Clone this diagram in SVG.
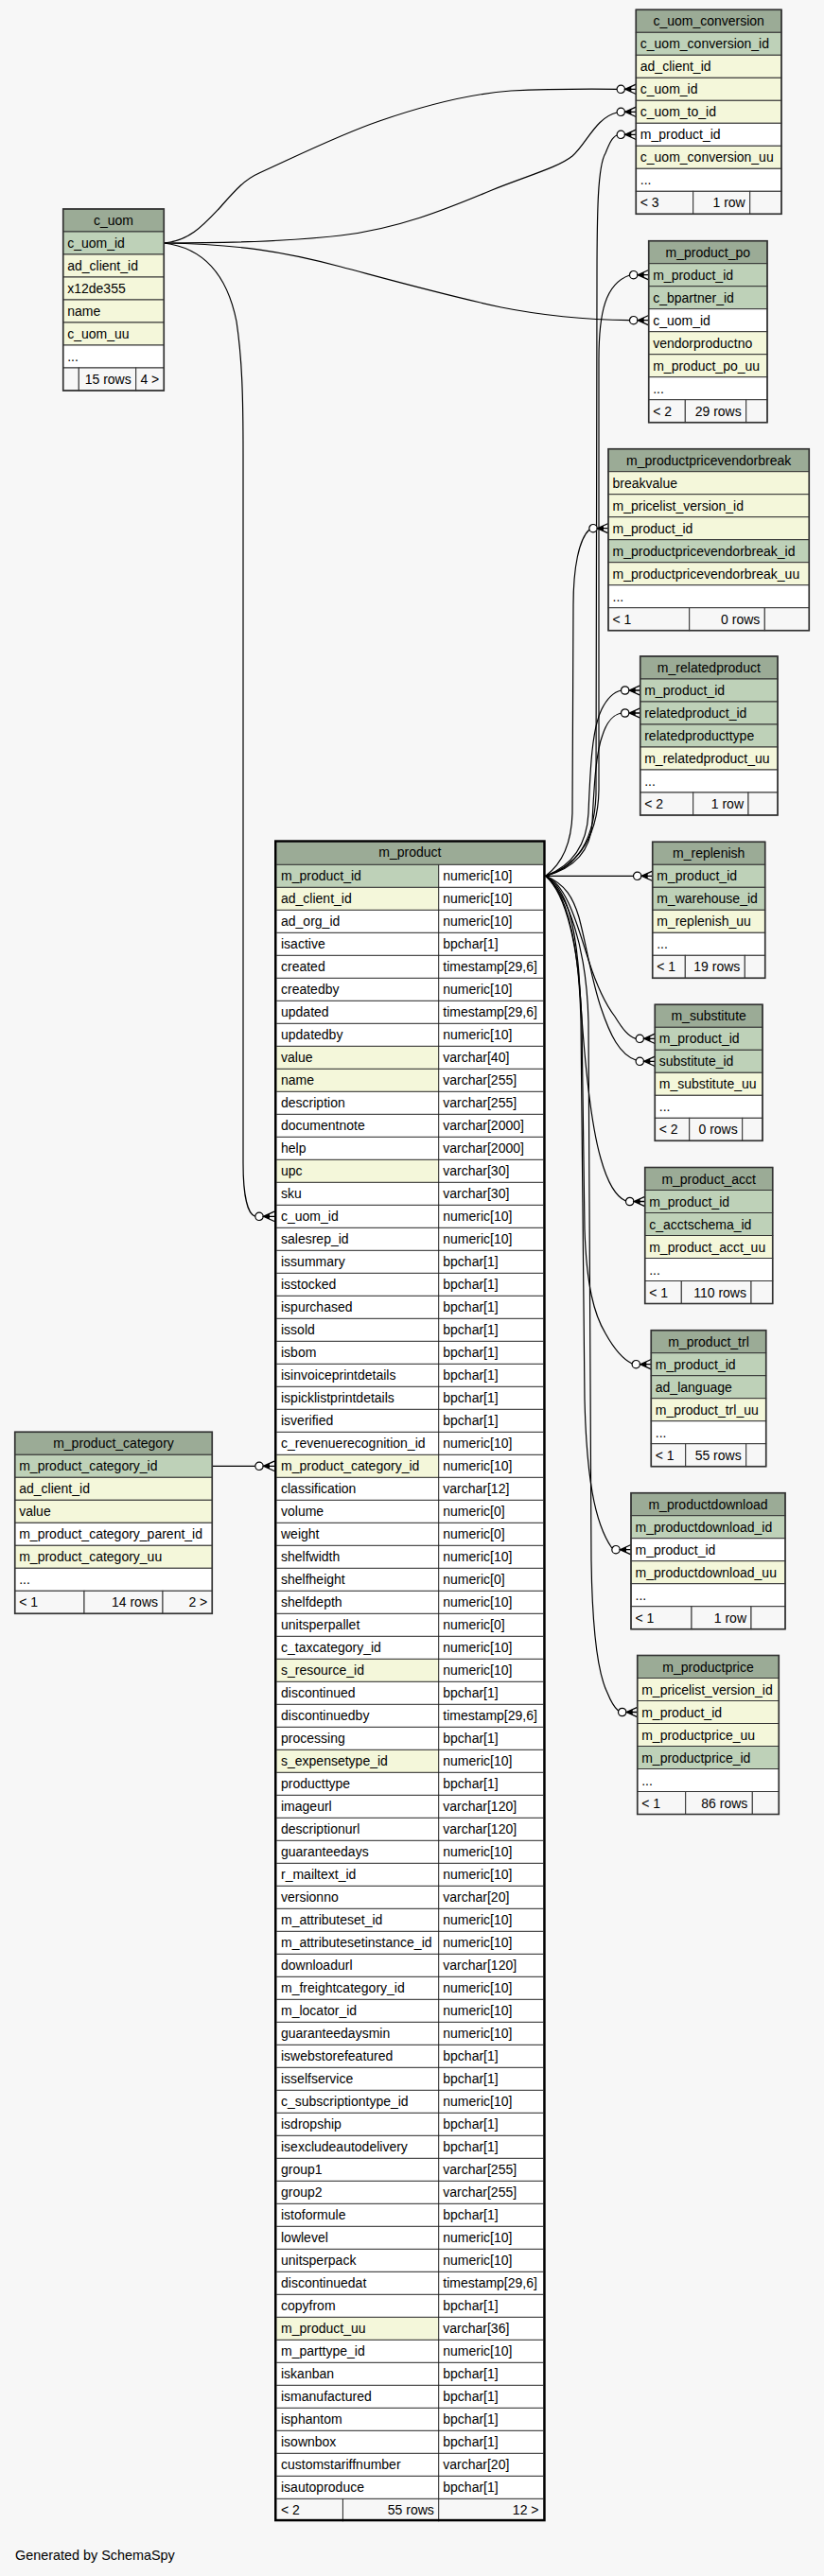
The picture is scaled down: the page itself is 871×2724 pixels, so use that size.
<svg xmlns="http://www.w3.org/2000/svg" width="871" height="2724" viewBox="0 0 871 2724">
<style>
text{font-family:"Liberation Sans",Arial,Helvetica,sans-serif;font-size:14px;fill:#000}
.c{text-anchor:middle}
.e{text-anchor:end}
.h{fill:#9bab96}
.pk{fill:#bed1b8}
.ix{fill:#f4f7da}
.w{fill:#fff}
.f{fill:#f7f7f7}
.tb rect{stroke:#333;stroke-width:1}
.tb rect.o{fill:none;stroke:#333;stroke-width:1.6}
.grid{fill:none;stroke:#222;stroke-width:1}
.edges path{fill:none;stroke:#000;stroke-width:1.2}
</style>
<defs>
<g id="fk">
<circle cx="-16" cy="0" r="4.2" fill="#fff" stroke="#000" stroke-width="1.2"/>
<path d="M0,-5.2 L-11.5,0 L0,5.2 M-11.5,0 H0" fill="none" stroke="#000" stroke-width="1.3"/>
<path d="M-11.5,0 L-5,-3 L-5,3 Z" fill="#000"/>
</g>
</defs>
<rect x="0" y="0" width="871" height="2724" fill="#f7f7f7"/>

<g id="connectors" class="edges">
<path d="M173.3,257 C200,255 215,238 232,220 C248,202 258,190 274,183 C320,162 360,142 401,128 C450,111 500,99 540,96 C580,94 620,94 652.1,94.3"/>
<path d="M173.3,257 C230,257 300,256 360,249 C420,242 470,222 520,201 C560,185 590,177 605,165 C620,152 630,124 652.1,119"/>
<path d="M173.3,257 C250,258 300,266 360,282 C420,298 470,312 530,325 C580,335 620,338 665.5,338.7"/>
<path d="M173.3,257 C215,262 240,290 250,340 C256,380 257,420 257,480 L257,1230 C257,1265 262,1284 269.8,1286.3"/>
<path d="M224.3,1550.3 L269.8,1550.3"/>
<path d="M576.7,926.3 C600,920 628,900 630,840 L631,300 C631,220 632,175 640,162 C644,152 647,145 652.1,143"/>
<path d="M576.7,926.3 C602,918 632,895 633,835 L633,380 C633,330 640,300 665.5,291"/>
<path d="M576.7,926.3 C592,915 604,895 605,860 L606,640 C606,600 612,570 623,560"/>
<path d="M576.7,926.3 C598,918 620,900 622,860 C624,810 626,770 636,750 C642,738 648,732 656.5,730"/>
<path d="M576.7,926.3 C600,920 624,905 626,870 C628,830 630,795 637,777 C642,762 648,756 656.5,754"/>
<path d="M576.7,926.3 L669.5,926.3"/>
<path d="M576.7,926.3 C600,935 612,985 622,1015 C630,1040 640,1062 650,1075 C658,1088 664,1096 672.1,1098.3"/>
<path d="M576.7,926.3 C598,935 606,950 612,970 C620,1000 625,1035 635,1065 C645,1095 655,1115 672.1,1121"/>
<path d="M576.7,926.3 C600,940 608,980 612,1030 C616,1100 622,1180 635,1225 C642,1250 650,1265 661.5,1270"/>
<path d="M576.7,926.3 C598,945 612,1000 615,1080 L618,1300 C620,1360 628,1390 640,1410 C650,1428 660,1438 668.1,1442"/>
<path d="M576.7,926.3 C600,945 612,1000 614,1080 L618,1480 C620,1560 628,1610 646.8,1637"/>
<path d="M576.7,926.3 C600,945 620,1000 622,1080 L625,1650 C626,1720 632,1770 642,1790 C646,1800 650,1806 653.5,1809"/>
<use href="#fk" x="672.3" y="94.3"/>
<use href="#fk" x="672.3" y="118.3"/>
<use href="#fk" x="672.3" y="142.3"/>
<use href="#fk" x="685.7" y="290.7"/>
<use href="#fk" x="685.7" y="338.7"/>
<use href="#fk" x="643" y="558.7"/>
<use href="#fk" x="676.7" y="730"/>
<use href="#fk" x="676.7" y="754"/>
<use href="#fk" x="689.7" y="926.3"/>
<use href="#fk" x="692.3" y="1098.3"/>
<use href="#fk" x="692.3" y="1122.3"/>
<use href="#fk" x="681.7" y="1270.5"/>
<use href="#fk" x="688.3" y="1442.7"/>
<use href="#fk" x="667" y="1638.7"/>
<use href="#fk" x="673.7" y="1810.5"/>
<use href="#fk" x="290" y="1286.3"/>
<use href="#fk" x="290" y="1550.3"/>
</g>

<g id="c_uom_conversion" class="tb" transform="translate(672.3,10.3)">
<rect class="h" x="0" y="0" width="153.7" height="24"/><text class="c" x="76.85" y="17">c_uom_conversion</text>
<rect class="pk" x="0" y="24" width="153.7" height="24"/><text x="4.5" y="41">c_uom_conversion_id</text>
<rect class="ix" x="0" y="48" width="153.7" height="24"/><text x="4.5" y="65">ad_client_id</text>
<rect class="ix" x="0" y="72" width="153.7" height="24"/><text x="4.5" y="89">c_uom_id</text>
<rect class="ix" x="0" y="96" width="153.7" height="24"/><text x="4.5" y="113">c_uom_to_id</text>
<rect class="w" x="0" y="120" width="153.7" height="24"/><text x="4.5" y="137">m_product_id</text>
<rect class="ix" x="0" y="144" width="153.7" height="24"/><text x="4.5" y="161">c_uom_conversion_uu</text>
<rect class="w" x="0" y="168" width="153.7" height="24"/><text x="4.5" y="185">...</text>
<rect class="f" x="0" y="192" width="60.4" height="24"/><rect class="f" x="60.4" y="192" width="60" height="24"/><rect class="f" x="120.4" y="192" width="33.3" height="24"/>
<text x="4.5" y="209">&lt; 3</text><text class="e" x="115.4" y="209">1 row</text>
<rect class="o" x="0" y="0" width="153.7" height="216"/>
</g>

<g id="m_product_po" class="tb" transform="translate(685.7,254.7)">
<rect class="h" x="0" y="0" width="125.3" height="24"/><text class="c" x="62.65" y="17">m_product_po</text>
<rect class="pk" x="0" y="24" width="125.3" height="24"/><text x="4.5" y="41">m_product_id</text>
<rect class="pk" x="0" y="48" width="125.3" height="24"/><text x="4.5" y="65">c_bpartner_id</text>
<rect class="w" x="0" y="72" width="125.3" height="24"/><text x="4.5" y="89">c_uom_id</text>
<rect class="ix" x="0" y="96" width="125.3" height="24"/><text x="4.5" y="113">vendorproductno</text>
<rect class="ix" x="0" y="120" width="125.3" height="24"/><text x="4.5" y="137">m_product_po_uu</text>
<rect class="w" x="0" y="144" width="125.3" height="24"/><text x="4.5" y="161">...</text>
<rect class="f" x="0" y="168" width="38.6" height="24"/><rect class="f" x="38.6" y="168" width="64.4" height="24"/><rect class="f" x="103" y="168" width="22.3" height="24"/>
<text x="4.5" y="185">&lt; 2</text><text class="e" x="98" y="185">29 rows</text>
<rect class="o" x="0" y="0" width="125.3" height="192"/>
</g>

<g id="m_productpricevendorbreak" class="tb" transform="translate(643,474.7)">
<rect class="h" x="0" y="0" width="212.3" height="24"/><text class="c" x="106.15" y="17">m_productpricevendorbreak</text>
<rect class="ix" x="0" y="24" width="212.3" height="24"/><text x="4.5" y="41">breakvalue</text>
<rect class="ix" x="0" y="48" width="212.3" height="24"/><text x="4.5" y="65">m_pricelist_version_id</text>
<rect class="ix" x="0" y="72" width="212.3" height="24"/><text x="4.5" y="89">m_product_id</text>
<rect class="pk" x="0" y="96" width="212.3" height="24"/><text x="4.5" y="113">m_productpricevendorbreak_id</text>
<rect class="ix" x="0" y="120" width="212.3" height="24"/><text x="4.5" y="137">m_productpricevendorbreak_uu</text>
<rect class="w" x="0" y="144" width="212.3" height="24"/><text x="4.5" y="161">...</text>
<rect class="f" x="0" y="168" width="85.7" height="24"/><rect class="f" x="85.7" y="168" width="79.6" height="24"/><rect class="f" x="165.3" y="168" width="47" height="24"/>
<text x="4.5" y="185">&lt; 1</text><text class="e" x="160.3" y="185">0 rows</text>
<rect class="o" x="0" y="0" width="212.3" height="192"/>
</g>

<g id="m_relatedproduct" class="tb" transform="translate(676.7,694)">
<rect class="h" x="0" y="0" width="145.3" height="24"/><text class="c" x="72.65" y="17">m_relatedproduct</text>
<rect class="pk" x="0" y="24" width="145.3" height="24"/><text x="4.5" y="41">m_product_id</text>
<rect class="pk" x="0" y="48" width="145.3" height="24"/><text x="4.5" y="65">relatedproduct_id</text>
<rect class="pk" x="0" y="72" width="145.3" height="24"/><text x="4.5" y="89">relatedproducttype</text>
<rect class="ix" x="0" y="96" width="145.3" height="24"/><text x="4.5" y="113">m_relatedproduct_uu</text>
<rect class="w" x="0" y="120" width="145.3" height="24"/><text x="4.5" y="137">...</text>
<rect class="f" x="0" y="144" width="56" height="24"/><rect class="f" x="56" y="144" width="58.3" height="24"/><rect class="f" x="114.3" y="144" width="31" height="24"/>
<text x="4.5" y="161">&lt; 2</text><text class="e" x="109.3" y="161">1 row</text>
<rect class="o" x="0" y="0" width="145.3" height="168"/>
</g>

<g id="m_replenish" class="tb" transform="translate(689.7,890.3)">
<rect class="h" x="0" y="0" width="119" height="24"/><text class="c" x="59.5" y="17">m_replenish</text>
<rect class="pk" x="0" y="24" width="119" height="24"/><text x="4.5" y="41">m_product_id</text>
<rect class="pk" x="0" y="48" width="119" height="24"/><text x="4.5" y="65">m_warehouse_id</text>
<rect class="ix" x="0" y="72" width="119" height="24"/><text x="4.5" y="89">m_replenish_uu</text>
<rect class="w" x="0" y="96" width="119" height="24"/><text x="4.5" y="113">...</text>
<rect class="f" x="0" y="120" width="34.6" height="24"/><rect class="f" x="34.6" y="120" width="63" height="24"/><rect class="f" x="97.6" y="120" width="21.4" height="24"/>
<text x="4.5" y="137">&lt; 1</text><text class="e" x="92.6" y="137">19 rows</text>
<rect class="o" x="0" y="0" width="119" height="144"/>
</g>

<g id="m_substitute" class="tb" transform="translate(692.3,1062.3)">
<rect class="h" x="0" y="0" width="113.7" height="24"/><text class="c" x="56.85" y="17">m_substitute</text>
<rect class="pk" x="0" y="24" width="113.7" height="24"/><text x="4.5" y="41">m_product_id</text>
<rect class="pk" x="0" y="48" width="113.7" height="24"/><text x="4.5" y="65">substitute_id</text>
<rect class="ix" x="0" y="72" width="113.7" height="24"/><text x="4.5" y="89">m_substitute_uu</text>
<rect class="w" x="0" y="96" width="113.7" height="24"/><text x="4.5" y="113">...</text>
<rect class="f" x="0" y="120" width="36.4" height="24"/><rect class="f" x="36.4" y="120" width="56" height="24"/><rect class="f" x="92.4" y="120" width="21.3" height="24"/>
<text x="4.5" y="137">&lt; 2</text><text class="e" x="87.4" y="137">0 rows</text>
<rect class="o" x="0" y="0" width="113.7" height="144"/>
</g>

<g id="m_product_acct" class="tb" transform="translate(681.7,1234.5)">
<rect class="h" x="0" y="0" width="135" height="24"/><text class="c" x="67.5" y="17">m_product_acct</text>
<rect class="pk" x="0" y="24" width="135" height="24"/><text x="4.5" y="41">m_product_id</text>
<rect class="pk" x="0" y="48" width="135" height="24"/><text x="4.5" y="65">c_acctschema_id</text>
<rect class="ix" x="0" y="72" width="135" height="24"/><text x="4.5" y="89">m_product_acct_uu</text>
<rect class="w" x="0" y="96" width="135" height="24"/><text x="4.5" y="113">...</text>
<rect class="f" x="0" y="120" width="38.6" height="24"/><rect class="f" x="38.6" y="120" width="73.7" height="24"/><rect class="f" x="112.3" y="120" width="22.7" height="24"/>
<text x="4.5" y="137">&lt; 1</text><text class="e" x="107.3" y="137">110 rows</text>
<rect class="o" x="0" y="0" width="135" height="144"/>
</g>

<g id="m_product_trl" class="tb" transform="translate(688.3,1406.7)">
<rect class="h" x="0" y="0" width="121.4" height="24"/><text class="c" x="60.7" y="17">m_product_trl</text>
<rect class="pk" x="0" y="24" width="121.4" height="24"/><text x="4.5" y="41">m_product_id</text>
<rect class="pk" x="0" y="48" width="121.4" height="24"/><text x="4.5" y="65">ad_language</text>
<rect class="ix" x="0" y="72" width="121.4" height="24"/><text x="4.5" y="89">m_product_trl_uu</text>
<rect class="w" x="0" y="96" width="121.4" height="24"/><text x="4.5" y="113">...</text>
<rect class="f" x="0" y="120" width="36.4" height="24"/><rect class="f" x="36.4" y="120" width="64" height="24"/><rect class="f" x="100.4" y="120" width="21" height="24"/>
<text x="4.5" y="137">&lt; 1</text><text class="e" x="95.4" y="137">55 rows</text>
<rect class="o" x="0" y="0" width="121.4" height="144"/>
</g>

<g id="m_productdownload" class="tb" transform="translate(667,1578.7)">
<rect class="h" x="0" y="0" width="163" height="24"/><text class="c" x="81.5" y="17">m_productdownload</text>
<rect class="pk" x="0" y="24" width="163" height="24"/><text x="4.5" y="41">m_productdownload_id</text>
<rect class="w" x="0" y="48" width="163" height="24"/><text x="4.5" y="65">m_product_id</text>
<rect class="ix" x="0" y="72" width="163" height="24"/><text x="4.5" y="89">m_productdownload_uu</text>
<rect class="w" x="0" y="96" width="163" height="24"/><text x="4.5" y="113">...</text>
<rect class="f" x="0" y="120" width="64" height="24"/><rect class="f" x="64" y="120" width="63" height="24"/><rect class="f" x="127" y="120" width="36" height="24"/>
<text x="4.5" y="137">&lt; 1</text><text class="e" x="122" y="137">1 row</text>
<rect class="o" x="0" y="0" width="163" height="144"/>
</g>

<g id="m_productprice" class="tb" transform="translate(673.7,1750.5)">
<rect class="h" x="0" y="0" width="149.6" height="24"/><text class="c" x="74.8" y="17">m_productprice</text>
<rect class="ix" x="0" y="24" width="149.6" height="24"/><text x="4.5" y="41">m_pricelist_version_id</text>
<rect class="ix" x="0" y="48" width="149.6" height="24"/><text x="4.5" y="65">m_product_id</text>
<rect class="ix" x="0" y="72" width="149.6" height="24"/><text x="4.5" y="89">m_productprice_uu</text>
<rect class="pk" x="0" y="96" width="149.6" height="24"/><text x="4.5" y="113">m_productprice_id</text>
<rect class="w" x="0" y="120" width="149.6" height="24"/><text x="4.5" y="137">...</text>
<rect class="f" x="0" y="144" width="51" height="24"/><rect class="f" x="51" y="144" width="70.6" height="24"/><rect class="f" x="121.6" y="144" width="28" height="24"/>
<text x="4.5" y="161">&lt; 1</text><text class="e" x="116.6" y="161">86 rows</text>
<rect class="o" x="0" y="0" width="149.6" height="168"/>
</g>

<g id="c_uom" class="tb" transform="translate(66.7,221)">
<rect class="h" x="0" y="0" width="106.6" height="24"/><text class="c" x="53.3" y="17">c_uom</text>
<rect class="pk" x="0" y="24" width="106.6" height="24"/><text x="4.5" y="41">c_uom_id</text>
<rect class="ix" x="0" y="48" width="106.6" height="24"/><text x="4.5" y="65">ad_client_id</text>
<rect class="ix" x="0" y="72" width="106.6" height="24"/><text x="4.5" y="89">x12de355</text>
<rect class="ix" x="0" y="96" width="106.6" height="24"/><text x="4.5" y="113">name</text>
<rect class="ix" x="0" y="120" width="106.6" height="24"/><text x="4.5" y="137">c_uom_uu</text>
<rect class="w" x="0" y="144" width="106.6" height="24"/><text x="4.5" y="161">...</text>
<rect class="f" x="0" y="168" width="16.6" height="24"/><rect class="f" x="16.6" y="168" width="60.4" height="24"/><rect class="f" x="77" y="168" width="29.6" height="24"/>
<text class="e" x="72" y="185">15 rows</text><text class="e" x="101.6" y="185">4 &gt;</text>
<rect class="o" x="0" y="0" width="106.6" height="192"/>
</g>

<g id="m_product_category" class="tb" transform="translate(15.7,1514.3)">
<rect class="h" x="0" y="0" width="208.6" height="24"/><text class="c" x="104.3" y="17">m_product_category</text>
<rect class="pk" x="0" y="24" width="208.6" height="24"/><text x="4.5" y="41">m_product_category_id</text>
<rect class="ix" x="0" y="48" width="208.6" height="24"/><text x="4.5" y="65">ad_client_id</text>
<rect class="ix" x="0" y="72" width="208.6" height="24"/><text x="4.5" y="89">value</text>
<rect class="w" x="0" y="96" width="208.6" height="24"/><text x="4.5" y="113">m_product_category_parent_id</text>
<rect class="ix" x="0" y="120" width="208.6" height="24"/><text x="4.5" y="137">m_product_category_uu</text>
<rect class="w" x="0" y="144" width="208.6" height="24"/><text x="4.5" y="161">...</text>
<rect class="f" x="0" y="168" width="73.3" height="24"/><rect class="f" x="73.3" y="168" width="83" height="24"/><rect class="f" x="156.3" y="168" width="52.3" height="24"/>
<text x="4.5" y="185">&lt; 1</text><text class="e" x="151.3" y="185">14 rows</text><text class="e" x="203.6" y="185">2 &gt;</text>
<rect class="o" x="0" y="0" width="208.6" height="192"/>
</g>

<g id="m_product" transform="translate(290,888.3)">
<rect x="2.3" y="2.3" width="282" height="23.7" class="h"/>
<rect x="2.3" y="26" width="282" height="1728" class="w"/>
<rect x="2.3" y="26" width="171.4" height="24" class="pk"/>
<rect x="2.3" y="50" width="171.4" height="24" class="ix"/>
<rect x="2.3" y="218" width="171.4" height="24" class="ix"/>
<rect x="2.3" y="242" width="171.4" height="24" class="ix"/>
<rect x="2.3" y="338" width="171.4" height="24" class="ix"/>
<rect x="2.3" y="650" width="171.4" height="24" class="ix"/>
<rect x="2.3" y="866" width="171.4" height="24" class="ix"/>
<rect x="2.3" y="962" width="171.4" height="24" class="ix"/>
<rect x="2.3" y="1562" width="171.4" height="24" class="ix"/>
<rect x="2.3" y="1754" width="282" height="24" class="f"/>
<path class="grid" d="M2.3,26H284.3M2.3,50H284.3M2.3,74H284.3M2.3,98H284.3M2.3,122H284.3M2.3,146H284.3M2.3,170H284.3M2.3,194H284.3M2.3,218H284.3M2.3,242H284.3M2.3,266H284.3M2.3,290H284.3M2.3,314H284.3M2.3,338H284.3M2.3,362H284.3M2.3,386H284.3M2.3,410H284.3M2.3,434H284.3M2.3,458H284.3M2.3,482H284.3M2.3,506H284.3M2.3,530H284.3M2.3,554H284.3M2.3,578H284.3M2.3,602H284.3M2.3,626H284.3M2.3,650H284.3M2.3,674H284.3M2.3,698H284.3M2.3,722H284.3M2.3,746H284.3M2.3,770H284.3M2.3,794H284.3M2.3,818H284.3M2.3,842H284.3M2.3,866H284.3M2.3,890H284.3M2.3,914H284.3M2.3,938H284.3M2.3,962H284.3M2.3,986H284.3M2.3,1010H284.3M2.3,1034H284.3M2.3,1058H284.3M2.3,1082H284.3M2.3,1106H284.3M2.3,1130H284.3M2.3,1154H284.3M2.3,1178H284.3M2.3,1202H284.3M2.3,1226H284.3M2.3,1250H284.3M2.3,1274H284.3M2.3,1298H284.3M2.3,1322H284.3M2.3,1346H284.3M2.3,1370H284.3M2.3,1394H284.3M2.3,1418H284.3M2.3,1442H284.3M2.3,1466H284.3M2.3,1490H284.3M2.3,1514H284.3M2.3,1538H284.3M2.3,1562H284.3M2.3,1586H284.3M2.3,1610H284.3M2.3,1634H284.3M2.3,1658H284.3M2.3,1682H284.3M2.3,1706H284.3M2.3,1730H284.3M2.3,1754H284.3M173.7,26V1778M72.4,1754V1778"/>
<rect x="1.25" y="1.25" width="284.2" height="1775.5" fill="none" stroke="#000" stroke-width="2.5"/>
<text class="c" x="143.35" y="18">m_product</text>
<g>
<text x="7" y="43">m_product_id</text><text x="178.3" y="43">numeric[10]</text>
<text x="7" y="67">ad_client_id</text><text x="178.3" y="67">numeric[10]</text>
<text x="7" y="91">ad_org_id</text><text x="178.3" y="91">numeric[10]</text>
<text x="7" y="115">isactive</text><text x="178.3" y="115">bpchar[1]</text>
<text x="7" y="139">created</text><text x="178.3" y="139">timestamp[29,6]</text>
<text x="7" y="163">createdby</text><text x="178.3" y="163">numeric[10]</text>
<text x="7" y="187">updated</text><text x="178.3" y="187">timestamp[29,6]</text>
<text x="7" y="211">updatedby</text><text x="178.3" y="211">numeric[10]</text>
<text x="7" y="235">value</text><text x="178.3" y="235">varchar[40]</text>
<text x="7" y="259">name</text><text x="178.3" y="259">varchar[255]</text>
<text x="7" y="283">description</text><text x="178.3" y="283">varchar[255]</text>
<text x="7" y="307">documentnote</text><text x="178.3" y="307">varchar[2000]</text>
<text x="7" y="331">help</text><text x="178.3" y="331">varchar[2000]</text>
<text x="7" y="355">upc</text><text x="178.3" y="355">varchar[30]</text>
<text x="7" y="379">sku</text><text x="178.3" y="379">varchar[30]</text>
<text x="7" y="403">c_uom_id</text><text x="178.3" y="403">numeric[10]</text>
<text x="7" y="427">salesrep_id</text><text x="178.3" y="427">numeric[10]</text>
<text x="7" y="451">issummary</text><text x="178.3" y="451">bpchar[1]</text>
<text x="7" y="475">isstocked</text><text x="178.3" y="475">bpchar[1]</text>
<text x="7" y="499">ispurchased</text><text x="178.3" y="499">bpchar[1]</text>
<text x="7" y="523">issold</text><text x="178.3" y="523">bpchar[1]</text>
<text x="7" y="547">isbom</text><text x="178.3" y="547">bpchar[1]</text>
<text x="7" y="571">isinvoiceprintdetails</text><text x="178.3" y="571">bpchar[1]</text>
<text x="7" y="595">ispicklistprintdetails</text><text x="178.3" y="595">bpchar[1]</text>
<text x="7" y="619">isverified</text><text x="178.3" y="619">bpchar[1]</text>
<text x="7" y="643">c_revenuerecognition_id</text><text x="178.3" y="643">numeric[10]</text>
<text x="7" y="667">m_product_category_id</text><text x="178.3" y="667">numeric[10]</text>
<text x="7" y="691">classification</text><text x="178.3" y="691">varchar[12]</text>
<text x="7" y="715">volume</text><text x="178.3" y="715">numeric[0]</text>
<text x="7" y="739">weight</text><text x="178.3" y="739">numeric[0]</text>
<text x="7" y="763">shelfwidth</text><text x="178.3" y="763">numeric[10]</text>
<text x="7" y="787">shelfheight</text><text x="178.3" y="787">numeric[0]</text>
<text x="7" y="811">shelfdepth</text><text x="178.3" y="811">numeric[10]</text>
<text x="7" y="835">unitsperpallet</text><text x="178.3" y="835">numeric[0]</text>
<text x="7" y="859">c_taxcategory_id</text><text x="178.3" y="859">numeric[10]</text>
<text x="7" y="883">s_resource_id</text><text x="178.3" y="883">numeric[10]</text>
<text x="7" y="907">discontinued</text><text x="178.3" y="907">bpchar[1]</text>
<text x="7" y="931">discontinuedby</text><text x="178.3" y="931">timestamp[29,6]</text>
<text x="7" y="955">processing</text><text x="178.3" y="955">bpchar[1]</text>
<text x="7" y="979">s_expensetype_id</text><text x="178.3" y="979">numeric[10]</text>
<text x="7" y="1003">producttype</text><text x="178.3" y="1003">bpchar[1]</text>
<text x="7" y="1027">imageurl</text><text x="178.3" y="1027">varchar[120]</text>
<text x="7" y="1051">descriptionurl</text><text x="178.3" y="1051">varchar[120]</text>
<text x="7" y="1075">guaranteedays</text><text x="178.3" y="1075">numeric[10]</text>
<text x="7" y="1099">r_mailtext_id</text><text x="178.3" y="1099">numeric[10]</text>
<text x="7" y="1123">versionno</text><text x="178.3" y="1123">varchar[20]</text>
<text x="7" y="1147">m_attributeset_id</text><text x="178.3" y="1147">numeric[10]</text>
<text x="7" y="1171">m_attributesetinstance_id</text><text x="178.3" y="1171">numeric[10]</text>
<text x="7" y="1195">downloadurl</text><text x="178.3" y="1195">varchar[120]</text>
<text x="7" y="1219">m_freightcategory_id</text><text x="178.3" y="1219">numeric[10]</text>
<text x="7" y="1243">m_locator_id</text><text x="178.3" y="1243">numeric[10]</text>
<text x="7" y="1267">guaranteedaysmin</text><text x="178.3" y="1267">numeric[10]</text>
<text x="7" y="1291">iswebstorefeatured</text><text x="178.3" y="1291">bpchar[1]</text>
<text x="7" y="1315">isselfservice</text><text x="178.3" y="1315">bpchar[1]</text>
<text x="7" y="1339">c_subscriptiontype_id</text><text x="178.3" y="1339">numeric[10]</text>
<text x="7" y="1363">isdropship</text><text x="178.3" y="1363">bpchar[1]</text>
<text x="7" y="1387">isexcludeautodelivery</text><text x="178.3" y="1387">bpchar[1]</text>
<text x="7" y="1411">group1</text><text x="178.3" y="1411">varchar[255]</text>
<text x="7" y="1435">group2</text><text x="178.3" y="1435">varchar[255]</text>
<text x="7" y="1459">istoformule</text><text x="178.3" y="1459">bpchar[1]</text>
<text x="7" y="1483">lowlevel</text><text x="178.3" y="1483">numeric[10]</text>
<text x="7" y="1507">unitsperpack</text><text x="178.3" y="1507">numeric[10]</text>
<text x="7" y="1531">discontinuedat</text><text x="178.3" y="1531">timestamp[29,6]</text>
<text x="7" y="1555">copyfrom</text><text x="178.3" y="1555">bpchar[1]</text>
<text x="7" y="1579">m_product_uu</text><text x="178.3" y="1579">varchar[36]</text>
<text x="7" y="1603">m_parttype_id</text><text x="178.3" y="1603">numeric[10]</text>
<text x="7" y="1627">iskanban</text><text x="178.3" y="1627">bpchar[1]</text>
<text x="7" y="1651">ismanufactured</text><text x="178.3" y="1651">bpchar[1]</text>
<text x="7" y="1675">isphantom</text><text x="178.3" y="1675">bpchar[1]</text>
<text x="7" y="1699">isownbox</text><text x="178.3" y="1699">bpchar[1]</text>
<text x="7" y="1723">customstariffnumber</text><text x="178.3" y="1723">varchar[20]</text>
<text x="7" y="1747">isautoproduce</text><text x="178.3" y="1747">bpchar[1]</text>
<text x="7" y="1771">&lt; 2</text><text class="e" x="168.8" y="1771">55 rows</text><text class="e" x="279.5" y="1771">12 &gt;</text>
</g>
</g>

<text x="16" y="2707" style="font-size:14.4px">Generated by SchemaSpy</text>
</svg>
